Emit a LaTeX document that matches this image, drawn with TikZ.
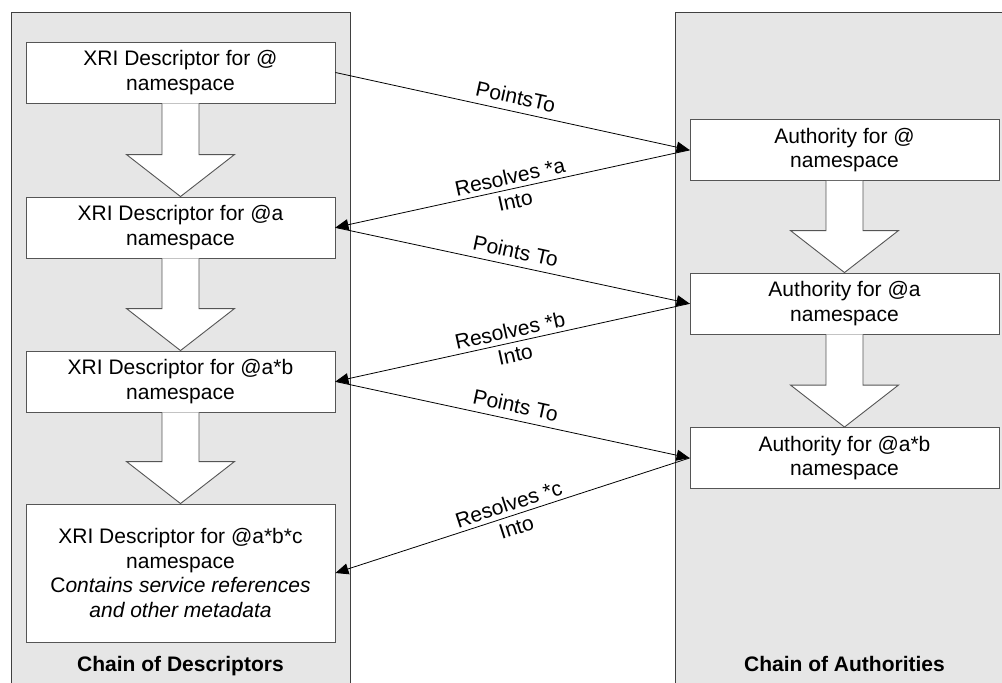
\documentclass[tikz,border=0pt]{standalone}
\usepackage{fontspec}
\setmainfont{Liberation Sans}
\usetikzlibrary{calc,arrows.meta}
\definecolor{panelfill}{HTML}{E6E6E6}
\definecolor{panelline}{HTML}{404040}
\definecolor{boxline}{HTML}{555555}
\tikzset{
  x=1pt, y=-1pt,
  every node/.style={font=\fontsize{21}{24.5}\selectfont},
  box/.style={draw=boxline, line width=0.9pt, fill=white, minimum width=309pt, minimum height=61pt, align=center, inner sep=0pt},
  conn/.style={draw=black, line width=0.8pt, -{Triangle[length=13pt,width=11pt]}},
  blockarr/.style={draw=boxline, line width=0.9pt, fill=white},
  lab/.style={midway, sloped, inner sep=0pt, text height=15pt, text depth=4pt},
  dlab/.style={midway, sloped, align=center, inner sep=0pt},
  title/.style={font=\fontsize{21}{24}\selectfont\bfseries, anchor=base}
}
\newcommand\blockarrow[2]{%
  \path[blockarr] ($(#1.south)+(-18.5,0)$) -- ($(#2.north)+(-18.5,-42)$) -- ($(#2.north)+(-54,-42)$) -- (#2.north) -- ($(#2.north)+(54,-42)$) -- ($(#2.north)+(18.5,-42)$) -- ($(#1.south)+(18.5,0)$);}
\begin{document}
\begin{tikzpicture}
\useasboundingbox (0,0) rectangle (1002,683);
% panels
\fill[panelfill] (11,12) rectangle (350.5,683);
\draw[panelline, line width=0.9pt] (11,683) -- (11,12) -- (350.5,12) -- (350.5,683);
\fill[panelfill] (675,12) rectangle (1002,683);
\draw[panelline, line width=0.9pt] (675,683) -- (675,12) -- (1002,12);
% descriptor boxes
\node[box] (b1) at (180.5,72.5) {XRI Descriptor for @\\namespace};
\node[box] (b2) at (180.5,227.5) {XRI Descriptor for @a\\namespace};
\node[box] (b3) at (180.5,381.5) {XRI Descriptor for @a*b\\namespace};
\node[box, minimum height=138pt] (b4) at (180.5,573) {XRI Descriptor for @a*b*c\\namespace\\C\textit{ontains service references}\\\textit{and other metadata}};
% authority boxes
\node[box] (a1) at (844.5,150) {Authority for @\\namespace};
\node[box] (a2) at (844.5,303.5) {Authority for @a\\namespace};
\node[box] (a3) at (844.5,458) {Authority for @a*b\\namespace};
% block arrows
\blockarrow{b1}{b2}
\blockarrow{b2}{b3}
\blockarrow{b3}{b4}
\blockarrow{a1}{a2}
\blockarrow{a2}{a3}
% titles
\node[title] (t1) at (180.5,671) {Chain of Descriptors};
\node[title] (t2) at (844.5,671) {Chain of Authorities};
% connectors
\draw[conn] (b1.east) -- node[lab, above=3pt] {PointsTo} (a1.west);
\draw[conn] (a1.west) -- node[dlab] {Resolves *a\\Into} (b2.east);
\draw[conn] (b2.east) -- node[lab, above=3pt] {Points To} (a2.west);
\draw[conn] (a2.west) -- node[dlab] {Resolves *b\\Into} (b3.east);
\draw[conn] (b3.east) -- node[lab, above=3pt] {Points To} (a3.west);
\draw[conn] (a3.west) -- node[dlab] {Resolves *c\\Into} (b4.east);
\end{tikzpicture}
\end{document}
